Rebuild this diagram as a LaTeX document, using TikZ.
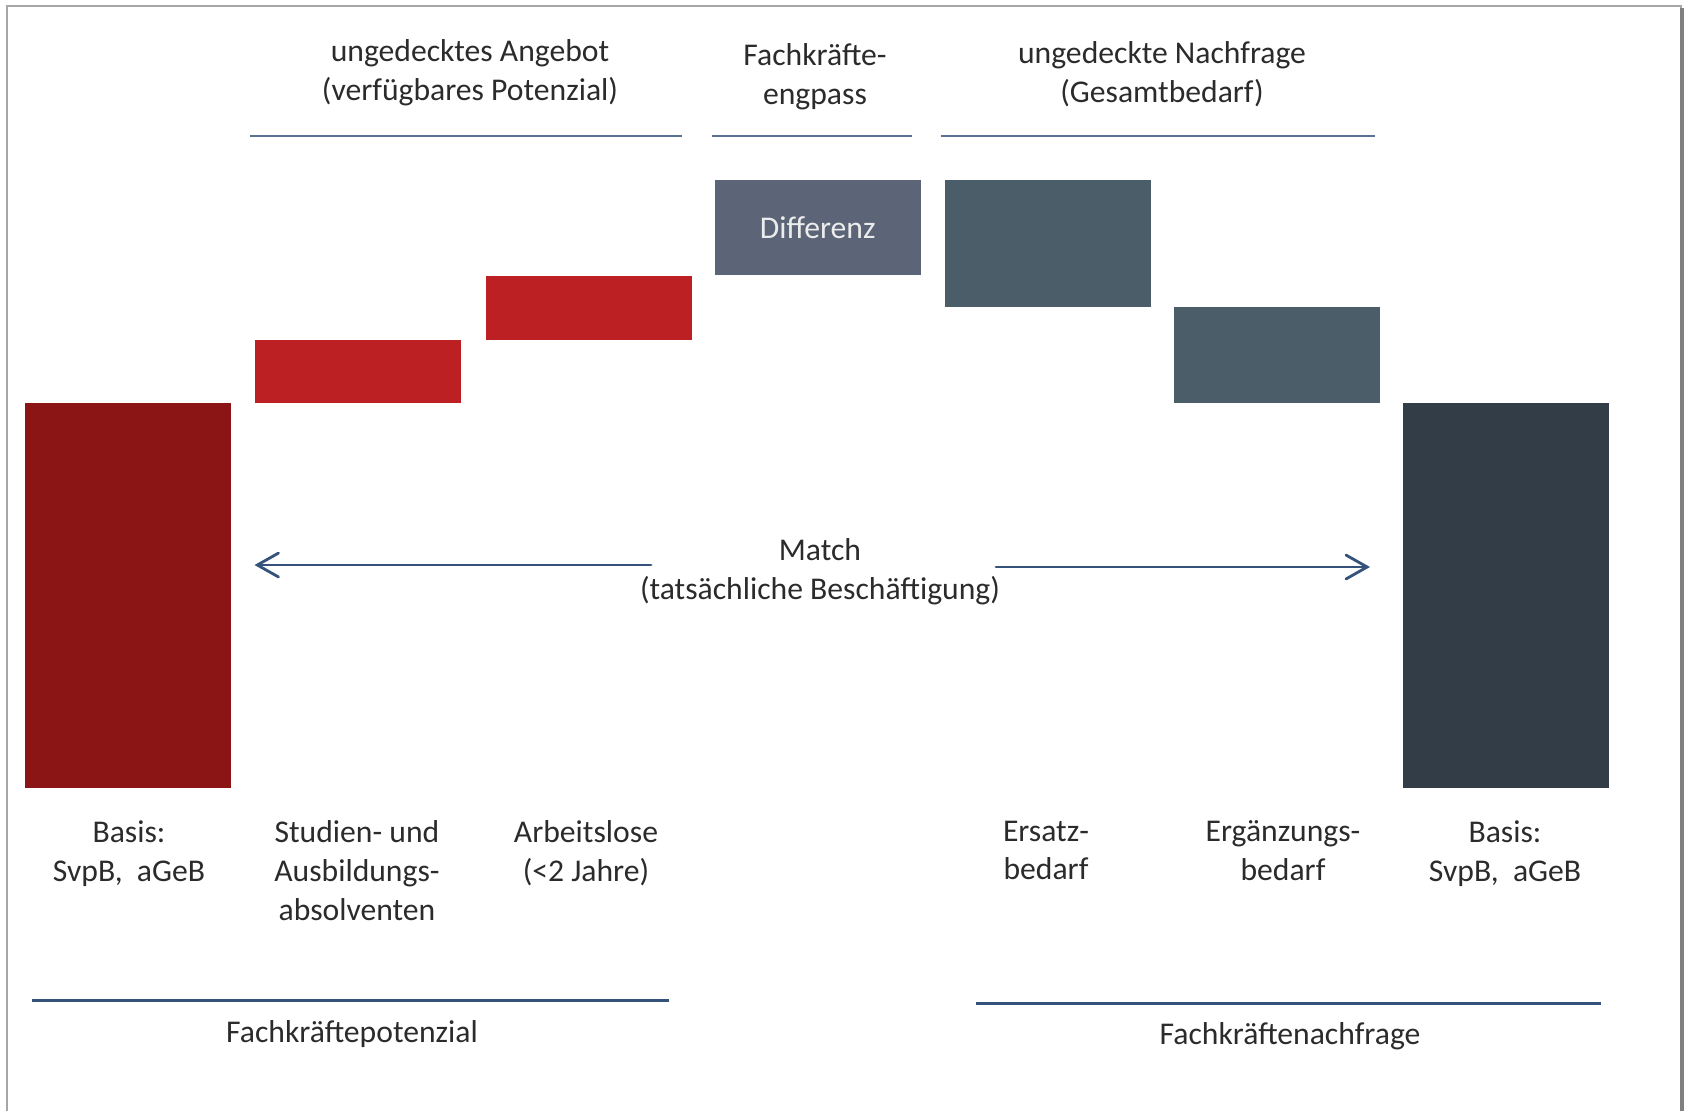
\documentclass[tikz,border=0pt]{standalone}
\usepackage{fontspec}
\setmainfont{Carlito}
\usetikzlibrary{arrows.meta,positioning}
\definecolor{basisrot}{HTML}{8B1515}
\definecolor{angebotrot}{HTML}{BC2023}
\definecolor{diffgrau}{HTML}{5B6577}
\definecolor{bedarfgrau}{HTML}{4B5D68}
\definecolor{basisgrau}{HTML}{333D47}
\definecolor{linienblau}{HTML}{5A7194}
\definecolor{pfeilblau}{HTML}{34527A}
\definecolor{schrift}{HTML}{2B2B2B}
\begin{document}
\begin{tikzpicture}[x=0.01cm,y=-0.01cm,
    every node/.style={font=\fontsize{9}{11}\selectfont, text=schrift, align=center, inner sep=0pt},
    balken/.style={rectangle, anchor=north west, minimum width=2.06cm},
    beschriftung/.style={anchor=north},
    klammer/.style={draw=linienblau, line width=0.6pt},
    summe/.style={draw=pfeilblau, line width=0.85pt},
    pfeil/.style={draw=pfeilblau, line width=0.8pt, line cap=round,
      -{Straight Barb[length=6pt,width=6.8pt,line cap=round]}}]
  \useasboundingbox (0,0) rectangle (1687,1111);
  \draw[gray!70, line width=0.5pt] (7,1111) -- (7,6) -- (1681,6) -- (1681,1111);
  \draw[gray, line width=1.2pt] (1682,8) -- (1682,1111);

  \node[balken, fill=basisrot, minimum height=3.85cm] (basisL) at (24,402) {};
  \node[balken, fill=angebotrot, minimum height=0.63cm] (studien) at (254,339) {};
  \node[balken, fill=angebotrot, minimum height=0.64cm] (arbeitslose) at (485,275) {};
  \node[balken, fill=diffgrau, minimum height=0.95cm, text=white!85!gray] (differenz) at (714,179) {Differenz};
  \node[balken, fill=bedarfgrau, minimum height=1.27cm] (ersatz) at (944,179) {};
  \node[balken, fill=bedarfgrau, minimum height=0.96cm] (ergaenzung) at (1173,306) {};
  \node[balken, fill=basisgrau, minimum height=3.85cm] (basisR) at (1402,402) {};

  \node[beschriftung] (angebot) at (470,39) {ungedecktes Angebot\\(verfügbares Potenzial)};
  \node[beschriftung] (engpass) at (815,43) {Fachkräfte-\\engpass};
  \node[beschriftung] (nachfrage) at (1162,41) {ungedeckte Nachfrage\\(Gesamtbedarf)};
  \draw[klammer] (250,136) -- (682,136);
  \draw[klammer] (712,136) -- (912,136);
  \draw[klammer] (941,136) -- (1375,136);

  \node[beschriftung] (match) at (820,538) {Match\\(tatsächliche Beschäftigung)};
  \coordinate (matchL) at (651,565);
  \coordinate (matchR) at (996,567);
  \draw[pfeil, shorten >=0.23cm] (matchL) -- (basisL.east |- matchL);
  \draw[pfeil, shorten >=0.32cm] (matchR) -- (basisR.west |- matchR);

  \node[beschriftung] (basisLtxt) at (129,820) {Basis:\\SvpB,\ \ aGeB};
  \node[beschriftung] (studientxt) at (357,820) {Studien- und\\Ausbildungs-\\absolventen};
  \node[beschriftung] (arbeitslosetxt) at (586,820) {Arbeitslose\\(<2 Jahre)};
  \node[beschriftung] (ersatztxt) at (1046,820) {Ersatz-\\bedarf};
  \node[beschriftung] (ergaenzungtxt) at (1283,820) {Ergänzungs-\\bedarf};
  \node[beschriftung] (basisRtxt) at (1505,820) {Basis:\\SvpB,\ \ aGeB};

  \draw[summe] (32,1000) -- (669,1000);
  \draw[summe] (976,1003) -- (1601,1003);
  \node[beschriftung] (potenzial) at (352,1020) {Fachkräftepotenzial};
  \node[beschriftung] (nachfragetxt) at (1290,1022) {Fachkräftenachfrage};
\end{tikzpicture}
\end{document}
